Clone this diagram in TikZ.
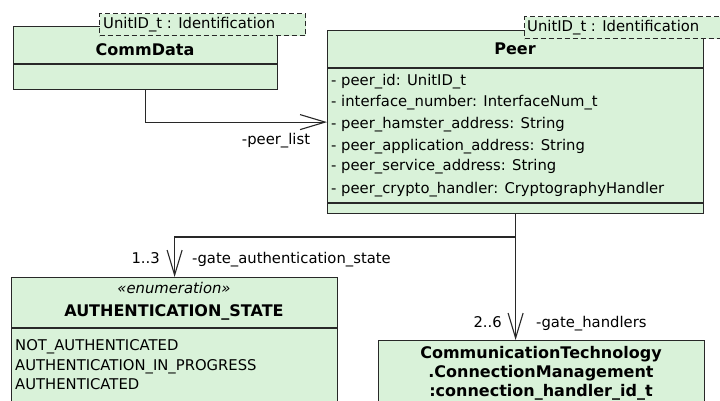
\documentclass[tikz,border=0pt]{standalone}
\usepackage{fontspec}
\setmainfont{DejaVu Sans}
\usetikzlibrary{arrows.meta}
\definecolor{umlfill}{RGB}{217,242,217}
\definecolor{umlline}{RGB}{40,40,40}
\tikzset{
  umlbox/.style={draw=umlline, fill=umlfill, line width=1.2pt, rectangle,
    inner sep=0pt, anchor=north west},
  tmplbox/.style={draw=umlline, fill=umlfill, line width=1.1pt, dashed,
    dash pattern=on 5pt off 3pt, rectangle, inner sep=0pt, anchor=north west},
  sepline/.style={draw=umlline, line width=1.2pt},
  txt/.style={inner sep=0pt, font=\fontsize{14.8}{18}\selectfont, text=black},
  title/.style={inner sep=0pt, font=\fontsize{16}{20}\selectfont\bfseries, text=black},
  assoc/.style={draw=umlline, line width=1.1pt,
    -{Straight Barb[length=25pt,width=15pt,line width=1.1pt]}},
}
\begin{document}
\begin{tikzpicture}[x=1pt,y=-1pt]
\useasboundingbox (0,0) rectangle (720,401);
\fill[white] (0,0) rectangle (720,401);

% CommData class
\node[umlbox, minimum width=264pt, minimum height=63pt] (commdata) at (13,26) {};
\draw[sepline] (13,64) -- (277,64);
\node[title, anchor=base] (commdatatitle) at (145,56) {CommData};
\node[tmplbox, minimum width=206pt, minimum height=22pt] (commdatatmpl) at (99,13) {};
\node[txt, anchor=base west] (commdatatmpltxt) at (103,29) {UnitID\_t : Identification};

% Peer class
\node[umlbox, minimum width=376pt, minimum height=183pt] (peer) at (327,30) {};
\draw[sepline] (327,68) -- (703,68);
\draw[sepline] (327,203) -- (703,203);
\node[title, anchor=base] (peertitle) at (515,55) {Peer};
\node[txt, anchor=base west] (a1) at (331,86) {- peer\_id: UnitID\_t};
\node[txt, anchor=base west] (a2) at (331,107) {- interface\_number: InterfaceNum\_t};
\node[txt, anchor=base west] (a3) at (331,129) {- peer\_hamster\_address: String};
\node[txt, anchor=base west] (a4) at (331,150) {- peer\_application\_address: String};
\node[txt, anchor=base west] (a5) at (331,171) {- peer\_service\_address: String};
\node[txt, anchor=base west] (a6) at (331,193) {- peer\_crypto\_handler: CryptographyHandler};
\node[tmplbox, minimum width=206pt, minimum height=22pt] (peertmpl) at (524,16) {};
\node[txt, anchor=base west] (peertmpltxt) at (527,32) {UnitID\_t : Identification};

% AUTHENTICATION_STATE enumeration
\node[umlbox, minimum width=326pt, minimum height=140pt] (auth) at (11,277) {};
\draw[sepline] (11,328) -- (337,328);
\node[txt, anchor=base, font=\fontsize{14.8}{18}\selectfont\itshape] (authstereo) at (174,293) {«enumeration»};
\node[title, anchor=base] (authtitle) at (174,316) {AUTHENTICATION\_STATE};
\node[txt, anchor=base west] (e1) at (15,350) {NOT\_AUTHENTICATED};
\node[txt, anchor=base west] (e2) at (15,370) {AUTHENTICATION\_IN\_PROGRESS};
\node[txt, anchor=base west] (e3) at (15,389) {AUTHENTICATED};

% Connection handler type
\node[umlbox, minimum width=326pt, minimum height=80pt] (ct) at (378,340) {};
\node[title, anchor=base] (ct1) at (541,358) {CommunicationTechnology};
\node[title, anchor=base] (ct2) at (541,377) {.ConnectionManagement};
\node[title, anchor=base] (ct3) at (541,396) {:connection\_handler\_id\_t};

% Associations
\draw[assoc] (commdata.south) |- (peer.west);
\node[txt, anchor=base] (lpeerlist) at (276,144) {-peer\_list};

\coordinate (split) at (peer.south |- 0,237);
\draw[assoc] (peer.south) -- (split) -| (auth.north);
\node[txt, anchor=base east] (mauth) at (160,263) {1..3};
\node[txt, anchor=base west] (lauth) at (192,263) {-gate\_authentication\_state};

\draw[assoc] (peer.south) -- (peer.south |- ct.north);
\node[txt, anchor=base east] (mct) at (502,327) {2..6};
\node[txt, anchor=base west] (lct) at (536,327) {-gate\_handlers};
\end{tikzpicture}
\end{document}
